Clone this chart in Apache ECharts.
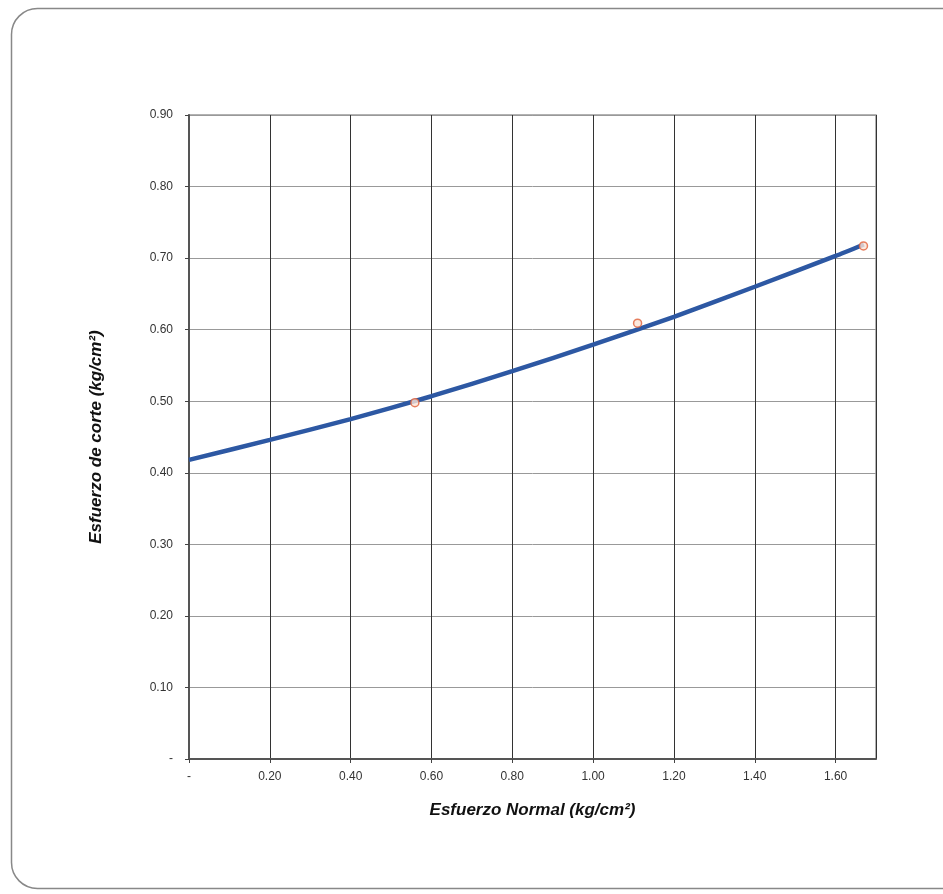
<!DOCTYPE html>
<html>
<head>
<meta charset="utf-8">
<script src="https://cdn.jsdelivr.net/npm/echarts@6/dist/echarts.min.js"></script>
<style>html,body{margin:0;padding:0;background:#fff;}#c{width:943px;height:894px;}</style>
</head>
<body>
<div id="c"></div>
<script>
// Measured points (normal stress, shear stress)
const pointsX = [0.559, 1.110, 1.669];
const pointsY = [0.498, 0.609, 0.717];
// Trendline
const curveX = [0, 0.2, 0.4, 0.6, 0.8, 1.0, 1.2, 1.4, 1.6, 1.67];
const curveY = [0.418, 0.446, 0.475, 0.507, 0.542, 0.579, 0.618, 0.660, 0.703, 0.719];
const xName = 'Esfuerzo Normal (kg/cm²)';
const yName = 'Esfuerzo de corte (kg/cm²)';

const fmt = v => (Math.abs(v) < 1e-9 ? '-' : v.toFixed(2));
const chart = echarts.init(document.getElementById('c'));
chart.setOption({
  backgroundColor: '#fff',
  animation: false,
  graphic: [{
    type: 'rect', left: 9, top: 6, z: -10,
    shape: { width: 960, height: 880, r: 26 },
    style: { fill: 'none', stroke: '#888', lineWidth: 1.5 }
  }],
  grid: { left: 189, top: 115, right: 67, bottom: 135, show: true, borderColor: '#999', borderWidth: 1.5 },
  xAxis: {
    type: 'value', min: 0, max: 1.7, interval: 0.2,
    name: xName, nameLocation: 'middle', nameGap: 43,
    nameTextStyle: { fontFamily: 'Liberation Sans', fontSize: 17, fontWeight: 'bold', fontStyle: 'italic', color: '#111' },
    axisLine: { show: true, lineStyle: { color: '#555', width: 2 } },
    axisTick: { show: true, length: 4, lineStyle: { color: '#444' } },
    axisLabel: { formatter: fmt, showMaxLabel: false, fontFamily: 'Liberation Sans', fontSize: 12, color: '#333', margin: 12 },
    splitLine: { show: true, lineStyle: { color: '#333', width: 1 } }
  },
  yAxis: {
    type: 'value', min: 0, max: 0.9, interval: 0.1,
    name: yName, nameLocation: 'middle', nameGap: 84,
    nameTextStyle: { fontFamily: 'Liberation Sans', fontSize: 17, fontWeight: 'bold', fontStyle: 'italic', color: '#111' },
    axisLine: { show: true, lineStyle: { color: '#555', width: 2 } },
    axisTick: { show: true, length: 4, lineStyle: { color: '#444' } },
    axisLabel: { formatter: fmt, fontFamily: 'Liberation Sans', fontSize: 12, color: '#333', margin: 16 },
    splitLine: { show: true, lineStyle: { color: '#999', width: 1 } }
  },
  series: [
    {
      type: 'line', smooth: 0.2, symbol: 'none',
      data: curveX.map((x, i) => [x, curveY[i]]),
      lineStyle: { color: '#2d58a3', width: 4.5 }, z: 2
    },
    {
      type: 'scatter', symbol: 'circle', symbolSize: 8,
      data: pointsX.map((x, i) => [x, pointsY[i]]),
      itemStyle: { color: '#fbe3d6', borderColor: '#e0603a', borderWidth: 1.5 }, z: 3
    }
  ]
});
</script>
</body>
</html>
